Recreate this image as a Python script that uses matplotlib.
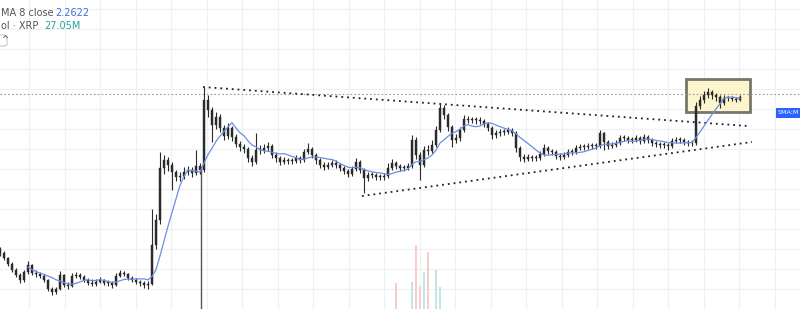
import matplotlib
matplotlib.use("Agg")
import matplotlib.pyplot as plt
import matplotlib.patches as mpatches
import numpy as np
import pandas as pd

# ---------------- data (daily XRP candles, price) ----------------
closes = [0.76, 0.71, 0.65, 0.59, 0.54, 0.49, 0.57, 0.64, 0.56, 0.55,
          0.53, 0.49, 0.40, 0.37, 0.40, 0.54, 0.44, 0.43, 0.53, 0.54,
          0.52, 0.49, 0.46, 0.45, 0.47, 0.49, 0.46, 0.46, 0.44, 0.53,
          0.56, 0.55, 0.51, 0.49, 0.47, 0.46, 0.44, 0.45, 0.84, 1.09,
          1.61, 1.69, 1.64, 1.57, 1.52, 1.53, 1.57, 1.59, 1.56, 1.63,
          1.59, 2.29, 2.19, 2.04, 2.12, 2.01, 1.93, 2.01, 1.92, 1.85,
          1.82, 1.80, 1.71, 1.67, 1.79, 1.79, 1.81, 1.83, 1.74, 1.71,
          1.67, 1.69, 1.68, 1.68, 1.71, 1.69, 1.77, 1.80, 1.74, 1.69,
          1.64, 1.62, 1.64, 1.66, 1.64, 1.61, 1.58, 1.55, 1.60, 1.67,
          1.59, 1.51, 1.54, 1.54, 1.52, 1.52, 1.53, 1.61, 1.66, 1.63,
          1.61, 1.61, 1.63, 1.89, 1.74, 1.64, 1.79, 1.78, 1.84, 1.99,
          2.21, 2.14, 2.02, 1.89, 1.91, 1.99, 2.10, 2.09, 2.09, 2.09,
          2.08, 2.05, 2.01, 1.94, 1.96, 1.97, 1.97, 1.99, 1.96, 1.81,
          1.72, 1.70, 1.72, 1.71, 1.71, 1.75, 1.81, 1.78, 1.77, 1.73,
          1.72, 1.74, 1.77, 1.77, 1.81, 1.82, 1.82, 1.83, 1.83, 1.83,
          1.96, 1.87, 1.83, 1.84, 1.86, 1.91, 1.91, 1.89, 1.89, 1.91,
          1.88, 1.92, 1.89, 1.86, 1.85, 1.84, 1.84, 1.83, 1.88, 1.89,
          1.89, 1.87, 1.86, 1.86, 2.23, 2.29, 2.34, 2.37, 2.34, 2.32,
          2.26, 2.31, 2.31, 2.30, 2.29, 2.32]
first_open = 0.80
highs = [0.82, 0.78, 0.72, 0.67, 0.61, 0.56, 0.59, 0.68, 0.65, 0.59,
         0.57, 0.55, 0.50, 0.42, 0.42, 0.58, 0.55, 0.47, 0.56, 0.57,
         0.56, 0.54, 0.51, 0.50, 0.50, 0.52, 0.50, 0.49, 0.48, 0.56,
         0.59, 0.58, 0.56, 0.53, 0.51, 0.49, 0.48, 0.48, 1.20, 1.15,
         1.77, 1.74, 1.72, 1.67, 1.59, 1.57, 1.62, 1.63, 1.62, 1.79,
         1.66, 2.42, 2.34, 2.22, 2.17, 2.15, 2.04, 2.06, 2.03, 1.95,
         1.88, 1.85, 1.82, 1.74, 1.96, 1.84, 1.85, 1.87, 1.85, 1.77,
         1.73, 1.72, 1.71, 1.71, 1.74, 1.73, 1.80, 1.86, 1.82, 1.76,
         1.71, 1.67, 1.67, 1.69, 1.69, 1.66, 1.63, 1.60, 1.63, 1.71,
         1.69, 1.61, 1.57, 1.57, 1.56, 1.55, 1.56, 1.66, 1.70, 1.68,
         1.65, 1.64, 1.66, 1.94, 1.92, 1.77, 1.83, 1.84, 1.89, 2.03,
         2.26, 2.24, 2.16, 2.04, 1.95, 2.02, 2.14, 2.13, 2.12, 2.12,
         2.12, 2.10, 2.07, 2.03, 1.99, 2.00, 2.00, 2.02, 2.01, 1.98,
         1.83, 1.75, 1.75, 1.74, 1.74, 1.78, 1.85, 1.83, 1.80, 1.79,
         1.76, 1.77, 1.80, 1.80, 1.84, 1.85, 1.85, 1.86, 1.86, 1.86,
         1.99, 1.97, 1.89, 1.87, 1.89, 1.94, 1.94, 1.93, 1.92, 1.94,
         1.93, 1.95, 1.94, 1.91, 1.88, 1.87, 1.87, 1.86, 1.91, 1.92,
         1.92, 1.91, 1.89, 1.89, 2.27, 2.33, 2.38, 2.41, 2.39, 2.36,
         2.34, 2.34, 2.33, 2.33, 2.32, 2.34]
lows = [0.73, 0.69, 0.63, 0.57, 0.52, 0.46, 0.47, 0.55, 0.54, 0.52,
        0.51, 0.47, 0.38, 0.34, 0.35, 0.39, 0.42, 0.40, 0.42, 0.51,
        0.50, 0.47, 0.44, 0.43, 0.43, 0.46, 0.44, 0.43, 0.41, 0.43,
        0.52, 0.53, 0.49, 0.47, 0.45, 0.43, 0.41, 0.40, 0.44, 0.80,
        1.05, 1.55, 1.58, 1.39, 1.48, 1.48, 1.50, 1.54, 1.52, 1.54,
        1.55, 1.57, 2.12, 1.87, 2.00, 1.97, 1.89, 1.90, 1.88, 1.82,
        1.78, 1.76, 1.67, 1.63, 1.65, 1.75, 1.76, 1.78, 1.71, 1.67,
        1.64, 1.65, 1.65, 1.65, 1.66, 1.66, 1.67, 1.75, 1.71, 1.65,
        1.61, 1.59, 1.60, 1.62, 1.61, 1.58, 1.55, 1.52, 1.53, 1.58,
        1.56, 1.36, 1.48, 1.51, 1.49, 1.49, 1.49, 1.51, 1.59, 1.60,
        1.58, 1.58, 1.59, 1.61, 1.70, 1.49, 1.62, 1.74, 1.76, 1.82,
        1.97, 2.10, 1.98, 1.82, 1.86, 1.88, 1.97, 2.06, 2.06, 2.05,
        2.05, 2.02, 1.98, 1.90, 1.91, 1.93, 1.94, 1.95, 1.93, 1.77,
        1.68, 1.67, 1.68, 1.68, 1.68, 1.69, 1.73, 1.75, 1.74, 1.70,
        1.69, 1.70, 1.72, 1.74, 1.75, 1.79, 1.79, 1.80, 1.80, 1.80,
        1.81, 1.79, 1.80, 1.81, 1.82, 1.84, 1.88, 1.86, 1.86, 1.87,
        1.85, 1.86, 1.86, 1.83, 1.82, 1.81, 1.81, 1.79, 1.81, 1.86,
        1.86, 1.84, 1.83, 1.83, 1.84, 2.20, 2.26, 2.31, 2.30, 2.28,
        2.21, 2.24, 2.28, 2.28, 2.27, 2.28]

# only the volume bars tall enough to show in the cropped pane
vol_index = [99, 103, 104, 105, 106, 107, 109, 110]
vol_values = [350, 352, 424, 345, 372, 411, 376, 343]   # millions

sma_period = 8
legend_sma_value = "2.2622"
legend_vol_value = "27.05M"

# user drawings (candle index, price)
upper_trend = [(50.75, 2.42), (187.0, 2.03)]
lower_trend = [(90.5, 1.33), (188.0, 1.87)]
price_line_level = 2.35
box_x = (171.5, 187.5)
box_price = (2.17, 2.50)
vline_x = 50.25

# ---------------- build ----------------
n = len(closes)
assert len(highs) == n and len(lows) == n
opens = [first_open] + closes[:-1]
idx = np.arange(n)
sma = pd.Series(closes).rolling(sma_period).mean()

W, H = 800, 309
fig = plt.figure(figsize=(W / 100, H / 100), dpi=100)
ax = fig.add_axes([0, 0, 1, 1])
ax.set_xlim(0, W / 4)
ax.set_ylim(3.29 - H / 100, 3.29)
for s in ax.spines.values():
    s.set_visible(False)
ax.set_xticks([])
ax.set_yticks([])

# grid
grid_c = "#eef0f5"
for gx in np.arange(7.25, 200, 8.875):
    ax.axvline(gx, color=grid_c, lw=0.9, zorder=0)
for gy in np.arange(0.2, 3.3, 0.2):
    ax.axhline(gy, color=grid_c, lw=0.9, zorder=0)

# volume (separate scale, pane base cropped below the picture)
ax2 = ax.twinx()
ax2.set_ylim(300, 900)
ax2.set_axis_off()
vcols = ["#c4e6e2" if closes[i] >= opens[i] else "#f8cccb" for i in vol_index]
ax2.bar(vol_index, vol_values, width=0.35, color=vcols, zorder=1)

# yellow box
ax.add_patch(mpatches.Rectangle((box_x[0], box_price[0]), box_x[1] - box_x[0],
                                box_price[1] - box_price[0], facecolor="#fdf5cd",
                                edgecolor="#77776a", lw=2.0, zorder=2))

# horizontal price line
ax.axhline(price_line_level, color="#9a9a9a", lw=0.8, ls=(0, (1.5, 2)), zorder=2)

# vertical line
ax.plot([vline_x, vline_x], [0.0, 1.62], color="#555555", lw=1.0, zorder=3)

# trend lines
for pts in (upper_trend, lower_trend):
    ax.plot([p[0] for p in pts], [p[1] for p in pts], color="#222222", lw=1.3,
            ls=(0, (1, 2.2)), zorder=3)

# candles
cc = "#2a2a2a"
ax.vlines(idx, lows, highs, color=cc, lw=0.8, zorder=4)
bottoms = np.minimum(opens, closes)
heights = np.maximum(np.abs(np.array(closes) - np.array(opens)), 0.008)
ax.bar(idx, heights, bottom=bottoms, width=0.5, color=cc, edgecolor=cc, lw=0.3, zorder=5)

# SMA
ax.plot(idx, sma, color="#6d8ee0", lw=0.9, zorder=6)

# ---------------- texts ----------------
def ftxt(x, y, s, **kw):
    fig.text(x / W, 1 - y / H, s, **kw)

ftxt(1, 13, "MA 8 close", fontsize=7, color="#555555", va="center")
ftxt(55, 13, legend_sma_value, fontsize=7, color="#3f6fd8", va="center")
ftxt(1, 26, "ol · XRP", fontsize=7, color="#555555", va="center")
ftxt(44, 26, legend_vol_value, fontsize=7, color="#26a69a", va="center")
fig.patches.append(mpatches.FancyBboxPatch((-6 / W, 1 - 46 / H), 13 / W, 11 / H,
                                           boxstyle="round,pad=0,rounding_size=0.005",
                                           transform=fig.transFigure, facecolor="white",
                                           edgecolor="#c8c8c8", lw=0.8))
ftxt(1, 40, "^", fontsize=6, color="#444444", va="center")

fig.patches.append(mpatches.Rectangle((776 / W, 1 - 118 / H), 26 / W, 10 / H,
                                      transform=fig.transFigure, facecolor="#2962ff",
                                      edgecolor="none"))
ftxt(778, 113, "SMA:M", fontsize=4.6, color="white", va="center")

fig.savefig("out.png", dpi=100)
